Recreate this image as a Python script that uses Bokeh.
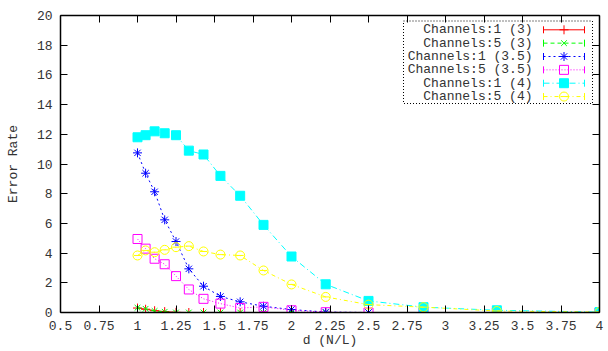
from bokeh.plotting import figure
from bokeh.models import Range1d, LinearAxis, FixedTicker, CustomJSTickFormatter, ColumnDataSource
from bokeh.core.properties import value
from bokeh.embed import file_html
from bokeh.resources import INLINE

# ---------------- data ----------------
d_values = [1.0, 1.0526, 1.1111, 1.1765, 1.25, 1.3333, 1.4286, 1.5385,
            1.6667, 1.8182, 2.0, 2.2222, 2.5, 2.8571, 3.3333, 4.0]

ch1_3 = [0.30, 0.22, 0.12, 0.06, 0.01, 0.0, 0.0, 0.0,
         0.0, 0.0, 0.0, 0.0, 0.0, 0.0, 0.0, 0.0]
ch5_3 = [0.32, 0.25, 0.10, 0.05, 0.0, 0.0, 0.0, 0.0,
         0.0, 0.0, 0.0, 0.0, 0.0, 0.0, 0.0, 0.0]
ch1_35 = [10.75, 9.38, 8.13, 6.24, 4.78, 2.94, 1.77, 1.08,
          0.72, 0.42, 0.20, 0.03, 0.0, 0.0, 0.0, 0.0]
ch5_35 = [4.95, 4.30, 3.62, 3.25, 2.45, 1.55, 0.92, 0.60,
          0.30, 0.38, 0.15, 0.02, 0.0, 0.0, 0.0, 0.0]
ch1_4 = [11.80, 11.94, 12.20, 12.07, 11.94, 10.90, 10.64, 9.20,
         7.86, 5.90, 3.77, 1.90, 0.78, 0.36, 0.15, 0.03]
ch5_4 = [3.84, 4.18, 4.06, 4.22, 4.40, 4.47, 4.11, 3.90,
         3.84, 2.83, 1.89, 1.05, 0.53, 0.36, 0.10, 0.03]

series_names = ["Channels:1 (3)", "Channels:5 (3)", "Channels:1 (3.5)",
                "Channels:5 (3.5)", "Channels:1 (4)", "Channels:5 (4)"]

x_ticks = [0.5, 0.75, 1.0, 1.25, 1.5, 1.75, 2.0, 2.25, 2.5, 2.75,
           3.0, 3.25, 3.5, 3.75, 4.0]
x_tick_labels = ["0.5", "0.75", "1", "1.25", "1.5", "1.75", "2", "2.25",
                 "2.5", "2.75", "3", "3.25", "3.5", "3.75", "4"]
y_ticks = [0, 2, 4, 6, 8, 10, 12, 14, 16, 18, 20]
x_title = "d (N/L)"
y_title = "Error Rate"

# ---------------- styles ----------------
FONT = "Liberation Mono"
FS = "13px"
TXT = "#333333"
styles = [
    dict(color="#ff0000", dash="solid", marker="cross", size=9, fill=False),
    dict(color="#00ff00", dash="4 3", marker="x", size=8, fill=False),
    dict(color="#0000ff", dash="2 3", marker="asterisk", size=9, fill=False),
    dict(color="#ff00ff", dash="1 2", marker="square", size=9, fill=False),
    dict(color="#00ffff", dash="6 3 1 3", marker="square", size=9, fill=True),
    dict(color="#ffff00", dash="4 3 1 3", marker="circle", size=9, fill=False),
]
series = [ch1_3, ch5_3, ch1_35, ch5_35, ch1_4, ch5_4]

W, H = 608, 351
L, R, T, B = 60, 9, 15, 39
X0, X1 = 0.5, 4.0
Y0, Y1 = 0.0, 20.0

p = figure(width=W, height=H, output_backend="svg", toolbar_location=None,
           x_range=Range1d(X0, X1), y_range=Range1d(Y0, Y1),
           min_border_left=L, min_border_right=R, min_border_top=T,
           min_border_bottom=B, x_axis_label=x_title, y_axis_label=y_title)
p.background_fill_color = "white"
p.border_fill_color = "white"
p.outline_line_color = None
p.xgrid.visible = False
p.ygrid.visible = False

labels_fmt = CustomJSTickFormatter(args=dict(t=x_ticks, lab=x_tick_labels), code="""
const i = t.indexOf(tick);
return i >= 0 ? lab[i] : '';
""")
blank_fmt = CustomJSTickFormatter(code="return '';")


def style_axis(ax, show_labels):
    ax.axis_line_color = "black"
    ax.axis_line_width = 1.5
    ax.major_tick_in = 7
    ax.major_tick_out = 0
    ax.major_tick_line_color = "black"
    ax.minor_tick_line_color = None
    ax.major_label_text_font = FONT
    ax.major_label_text_font_size = FS if show_labels else "0px"
    ax.major_label_text_color = TXT
    ax.axis_label_text_font = FONT
    ax.axis_label_text_font_size = FS
    ax.axis_label_text_font_style = "normal"
    ax.axis_label_text_color = TXT


xa = p.xaxis[0]
xa.ticker = FixedTicker(ticks=x_ticks)
xa.formatter = labels_fmt
style_axis(xa, True)
xa.major_label_standoff = 8
xa.axis_label_standoff = 0

ya = p.yaxis[0]
ya.ticker = FixedTicker(ticks=y_ticks)
style_axis(ya, True)
ya.major_label_standoff = 8
ya.axis_label_standoff = 13
ya.axis_label_text_line_height = 0.5

top = LinearAxis(ticker=FixedTicker(ticks=x_ticks), formatter=blank_fmt)
style_axis(top, False)
top.major_label_standoff = 0
p.add_layout(top, "above")
right = LinearAxis(ticker=FixedTicker(ticks=y_ticks), formatter=blank_fmt)
style_axis(right, False)
right.major_label_standoff = 0
p.add_layout(right, "right")

# ---------------- series ----------------
for vals, st in zip(series, styles):
    src = ColumnDataSource(dict(x=d_values, y=vals))
    p.line("x", "y", source=src, line_color=st["color"], line_width=1,
           line_dash=st["dash"])
    p.scatter("x", "y", source=src, marker=st["marker"], size=st["size"],
              line_color=st["color"], line_width=1,
              fill_color=st["color"] if st["fill"] else None)
    if st["marker"] == "circle":
        p.scatter("x", "y", source=src, marker="dash", size=7,
                  line_color=st["color"], line_width=1)

# ---------------- legend (gnuplot style) ----------------
fw = W - L - R
fh = H - T - B


def dx(px):
    return X0 + (px - L) / fw * (X1 - X0)


def dy(py):
    return Y1 - (py - T) / fh * (Y1 - Y0)


p.quad(left=dx(403), right=dx(592), top=dy(20.5), bottom=dy(103),
       fill_color=None, line_color="black", line_width=1, line_dash="1 2")

row_y = [dy(29.3 + 13.35 * i) for i in range(len(series_names))]
p.text(x=[dx(532)] * len(series_names), y=row_y, text=series_names,
       text_font=value(FONT), text_font_size=FS, text_align="right",
       text_baseline="middle", text_color=TXT)

cap = dy(0) - dy(3.5)
for i, st in enumerate(styles):
    yy = row_y[i]
    p.segment(x0=[dx(543)], y0=[yy], x1=[dx(584)], y1=[yy],
              line_color=st["color"], line_width=1, line_dash=st["dash"])
    p.segment(x0=[dx(543), dx(584)], y0=[yy - cap, yy - cap],
              x1=[dx(543), dx(584)], y1=[yy + cap, yy + cap],
              line_color=st["color"], line_width=1)
    p.scatter(x=[dx(563.5)], y=[yy], marker=st["marker"], size=st["size"],
              line_color=st["color"], line_width=1,
              fill_color=st["color"] if st["fill"] else None)
    if st["marker"] == "circle":
        p.scatter(x=[dx(563.5)], y=[yy], marker="dash", size=7,
                  line_color=st["color"], line_width=1)

open("out.html", "w").write(file_html(p, INLINE))
